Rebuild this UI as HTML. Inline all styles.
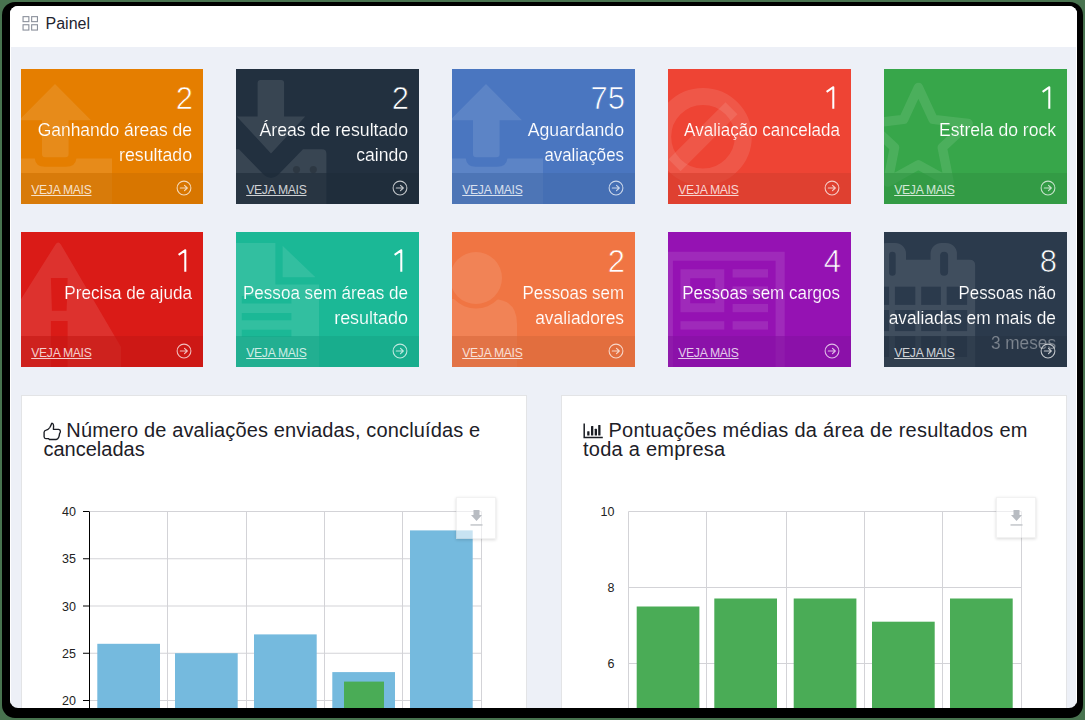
<!DOCTYPE html>
<html><head><meta charset="utf-8">
<style>
*{box-sizing:border-box;margin:0;padding:0}
html,body{width:1085px;height:720px;overflow:hidden;background:#48734f;font-family:"Liberation Sans",sans-serif}
#frame{position:absolute;left:2px;top:2px;width:1081px;height:716px;background:#000;border-radius:13px}
#app{position:absolute;left:10px;top:6px;width:1067px;height:702px;background:#edf0f7;border-radius:8px;overflow:hidden}
#hdr{position:absolute;left:0;top:0;width:1067px;height:41px;background:#fff}
#hdr .t{position:absolute;left:35.5px;top:6px;font-size:16px;line-height:24px;color:#1e2430}
.wl{position:absolute;top:0;width:1px;height:702px;background:#fff}
.tile{position:absolute;width:182px;height:135px;overflow:hidden;color:#fff}
.tile svg.bg{position:absolute;left:0;top:0}
.tile .num{position:absolute;right:10px;top:15px;font-size:31px;line-height:30px;text-align:right;white-space:nowrap}
.tile .lbl{position:absolute;right:11px;top:48.6px;width:200px;font-size:18px;line-height:25.2px;text-align:right;white-space:nowrap}
.tile .ft{position:absolute;left:0;top:104px;width:100%;height:31px}
.tile .vm{position:absolute;left:10.2px;top:8.6px;font-size:12.2px;line-height:16px;letter-spacing:-0.3px;text-decoration:underline;color:rgba(255,255,255,0.78);white-space:nowrap}
.tile .ar{position:absolute;right:10px;top:6px}
.panel{position:absolute;top:389px;width:506px;height:330px;background:#fff;border:1px solid #e3e4e6}
.ttl{position:absolute;font-size:20px;line-height:19px;color:#1d2027;white-space:nowrap}
.lab{position:absolute;font-size:12.5px;line-height:14px;color:#222;text-align:right;width:30px}
.dl{position:absolute;width:40px;height:41.5px;border:1px solid rgba(0,0,0,0.05);background:rgba(255,255,255,0.6);box-shadow:0 1px 3px rgba(0,0,0,0.15)}
</style></head><body>
<div id="frame"></div>
<div id="app">
<div class="wl" style="left:0"></div><div class="wl" style="left:1066px"></div>
<div id="hdr">
<svg style="position:absolute;left:12px;top:10px" width="17" height="16" viewBox="0 0 17 16"><g fill="none" stroke="#8a909b" stroke-width="1.1"><rect x="1.05" y="0.65" width="5.8" height="5.0"/><rect x="9.65" y="0.65" width="5.8" height="5.0"/><rect x="1.05" y="8.75" width="5.8" height="5.3"/><rect x="9.65" y="8.75" width="5.8" height="5.3"/></g></svg>
<div class="t">Painel</div>
</div>
<div class="tile" style="left:11px;top:63px;width:182px;background:#e57e00">
<svg class="bg" width="183" height="135" viewBox="0 0 183 135"><path fill="rgba(255,255,255,0.10)" d="M34 15 L70 51.3 L47.6 51.3 L47.6 85 Q47.6 88.3 44.3 88.3 L24.3 88.3 Q21 88.3 21 85 L21 51.3 L-2 51.3 Z"/>
<path fill="rgba(255,255,255,0.10)" d="M-20 89.5 L13.8 89.5 Q14.5 97.8 24 97.8 L45 97.8 Q54.5 97.8 55.4 89.5 L91 89.5 L91 140 L-20 140 Z"/></svg>
<div class="num" style="-webkit-text-stroke:0.7px #e57e00">2</div>
<div class="lbl" style="-webkit-text-stroke:0.15px #e57e00"><div style="transform:scaleX(0.97);transform-origin:100% 50%">Ganhando áreas de</div><div style="transform:scaleX(0.984);transform-origin:100% 50%">resultado</div></div>
<div class="ft" style="background:rgba(206,113,0,0.6)"><div class="vm">VEJA MAIS</div><svg class="ar" width="18" height="18" viewBox="0 0 18 18"><circle cx="9" cy="9" r="6.9" fill="none" stroke="rgba(255,255,255,0.72)" stroke-width="1.05"/><path d="M5.3 9 L12.3 9 M9.5 6.3 L12.3 9 L9.5 11.7" fill="none" stroke="rgba(255,255,255,0.72)" stroke-width="1.15" stroke-linecap="round" stroke-linejoin="round"/></svg></div>
</div><div class="tile" style="left:226px;top:63px;width:183px;background:#22303f">
<svg class="bg" width="183" height="135" viewBox="0 0 183 135"><path fill="rgba(255,255,255,0.10)" d="M24.6 11 L45.1 11 Q48.1 11 48.1 14 L48.1 47.4 L69.2 47.4 L35 84.5 L0.8 47.4 L21.6 47.4 L21.6 14 Q21.6 11 24.6 11 Z"/>
<path fill="rgba(255,255,255,0.10)" d="M-20 80.2 L3 80.2 L28 106 Q35 112 42 106 L67 80.2 L86 80.2 Q90.4 80.2 90.4 84.6 L90.4 140 L-20 140 Z"/>
<circle cx="60.5" cy="100.6" r="3.6" fill="rgba(0,0,0,0.18)"/><circle cx="77.3" cy="100.6" r="3.6" fill="rgba(0,0,0,0.18)"/></svg>
<div class="num" style="-webkit-text-stroke:0.7px #22303f">2</div>
<div class="lbl" style="-webkit-text-stroke:0.15px #22303f"><div style="transform:scaleX(0.983);transform-origin:100% 50%">Áreas de resultado</div><div style="transform:scaleX(0.977);transform-origin:100% 50%">caindo</div></div>
<div class="ft" style="background:rgba(30,43,56,0.6)"><div class="vm">VEJA MAIS</div><svg class="ar" width="18" height="18" viewBox="0 0 18 18"><circle cx="9" cy="9" r="6.9" fill="none" stroke="rgba(255,255,255,0.72)" stroke-width="1.05"/><path d="M5.3 9 L12.3 9 M9.5 6.3 L12.3 9 L9.5 11.7" fill="none" stroke="rgba(255,255,255,0.72)" stroke-width="1.15" stroke-linecap="round" stroke-linejoin="round"/></svg></div>
</div><div class="tile" style="left:442px;top:63px;width:183px;background:#4a76c0">
<svg class="bg" width="183" height="135" viewBox="0 0 183 135"><path fill="rgba(255,255,255,0.10)" d="M34 15 L70 51.3 L47.6 51.3 L47.6 85 Q47.6 88.3 44.3 88.3 L24.3 88.3 Q21 88.3 21 85 L21 51.3 L-2 51.3 Z"/>
<path fill="rgba(255,255,255,0.10)" d="M-20 89.5 L13.8 89.5 Q14.5 97.8 24 97.8 L45 97.8 Q54.5 97.8 55.4 89.5 L91 89.5 L91 140 L-20 140 Z"/></svg>
<div class="num" style="-webkit-text-stroke:0.7px #4a76c0">75</div>
<div class="lbl" style="-webkit-text-stroke:0.15px #4a76c0"><div style="transform:scaleX(0.981);transform-origin:100% 50%">Aguardando</div><div style="transform:scaleX(0.935);transform-origin:100% 50%">avaliações</div></div>
<div class="ft" style="background:rgba(66,106,172,0.6)"><div class="vm">VEJA MAIS</div><svg class="ar" width="18" height="18" viewBox="0 0 18 18"><circle cx="9" cy="9" r="6.9" fill="none" stroke="rgba(255,255,255,0.72)" stroke-width="1.05"/><path d="M5.3 9 L12.3 9 M9.5 6.3 L12.3 9 L9.5 11.7" fill="none" stroke="rgba(255,255,255,0.72)" stroke-width="1.15" stroke-linecap="round" stroke-linejoin="round"/></svg></div>
</div><div class="tile" style="left:658px;top:63px;width:183px;background:#ee4434">
<svg class="bg" width="183" height="135" viewBox="0 0 183 135"><mask id="m66869"><rect x="-50" y="-50" width="300" height="300" fill="#fff"/></mask><g fill="none" stroke="rgba(255,255,255,0.10)" stroke-width="17"><circle cx="35" cy="67.8" r="40.3"/></g><path fill="rgba(255,255,255,0.10)" d="M6.5 96.3 L63.5 39.3" stroke="rgba(255,255,255,0.10)" stroke-width="17"/></svg>
<svg style="position:absolute;left:0;top:0" width="183" height="50"><path d="M158.6 22.8 L165.0 18.3 L165.3 18.3 L165.3 39.8" fill="none" stroke="#fff" stroke-width="2.05" stroke-linejoin="round"/></svg>
<div class="lbl" style="-webkit-text-stroke:0.15px #ee4434"><div style="transform:scaleX(0.946);transform-origin:100% 50%">Avaliação cancelada</div></div>
<div class="ft" style="background:rgba(214,61,46,0.6)"><div class="vm">VEJA MAIS</div><svg class="ar" width="18" height="18" viewBox="0 0 18 18"><circle cx="9" cy="9" r="6.9" fill="none" stroke="rgba(255,255,255,0.72)" stroke-width="1.05"/><path d="M5.3 9 L12.3 9 M9.5 6.3 L12.3 9 L9.5 11.7" fill="none" stroke="rgba(255,255,255,0.72)" stroke-width="1.15" stroke-linecap="round" stroke-linejoin="round"/></svg></div>
</div><div class="tile" style="left:874px;top:63px;width:183px;background:#37a64a">
<svg class="bg" width="183" height="135" viewBox="0 0 183 135"><polygon points="34.4,18.4 49.2,50.4 84.1,54.5 58.3,78.5 65.1,113.0 34.4,95.8 3.7,113.0 10.5,78.5 -15.3,54.5 19.6,50.4" fill="none" stroke="rgba(255,255,255,0.10)" stroke-width="9.5" stroke-linejoin="round"/></svg>
<svg style="position:absolute;left:0;top:0" width="183" height="50"><path d="M158.6 22.8 L165.0 18.3 L165.3 18.3 L165.3 39.8" fill="none" stroke="#fff" stroke-width="2.05" stroke-linejoin="round"/></svg>
<div class="lbl" style="-webkit-text-stroke:0.15px #37a64a"><div style="transform:scaleX(0.974);transform-origin:100% 50%">Estrela do rock</div></div>
<div class="ft" style="background:rgba(49,149,66,0.6)"><div class="vm">VEJA MAIS</div><svg class="ar" width="18" height="18" viewBox="0 0 18 18"><circle cx="9" cy="9" r="6.9" fill="none" stroke="rgba(255,255,255,0.72)" stroke-width="1.05"/><path d="M5.3 9 L12.3 9 M9.5 6.3 L12.3 9 L9.5 11.7" fill="none" stroke="rgba(255,255,255,0.72)" stroke-width="1.15" stroke-linecap="round" stroke-linejoin="round"/></svg></div>
</div><div class="tile" style="left:11px;top:226px;width:182px;background:#da1b17">
<svg class="bg" width="183" height="135" viewBox="0 0 183 135"><path fill="rgba(255,255,255,0.10)" fill-rule="evenodd" d="M34.5 12.5 Q37.2 8.5 39.9 12.5 L100 115 L100 140 L-30 140 L-30 115 Z M29.9 45.9 L46.6 45.9 L45.6 78.7 L30.9 78.7 Z M29.9 88.9 L46.6 88.9 L46.6 140 L29.9 140 Z"/></svg>
<svg style="position:absolute;left:0;top:0" width="182" height="50"><path d="M157.6 22.8 L164.0 18.3 L164.3 18.3 L164.3 39.8" fill="none" stroke="#fff" stroke-width="2.05" stroke-linejoin="round"/></svg>
<div class="lbl" style="-webkit-text-stroke:0.15px #da1b17"><div style="transform:scaleX(0.952);transform-origin:100% 50%">Precisa de ajuda</div></div>
<div class="ft" style="background:rgba(196,24,20,0.6)"><div class="vm">VEJA MAIS</div><svg class="ar" width="18" height="18" viewBox="0 0 18 18"><circle cx="9" cy="9" r="6.9" fill="none" stroke="rgba(255,255,255,0.72)" stroke-width="1.05"/><path d="M5.3 9 L12.3 9 M9.5 6.3 L12.3 9 L9.5 11.7" fill="none" stroke="rgba(255,255,255,0.72)" stroke-width="1.15" stroke-linecap="round" stroke-linejoin="round"/></svg></div>
</div><div class="tile" style="left:226px;top:226px;width:183px;background:#1bb896">
<svg class="bg" width="183" height="135" viewBox="0 0 183 135"><path fill="rgba(255,255,255,0.10)" fill-rule="evenodd" d="M-20 10.9 L39.4 10.9 L39.4 52.4 L83 52.4 L83 140 L-20 140 Z M5.8 64 L55.4 64 L55.4 71.4 L5.8 71.4 Z M5.8 80.9 L55.4 80.9 L55.4 88.2 L5.8 88.2 Z M5.8 97.7 L55.4 97.7 L55.4 105 L5.8 105 Z"/>
<path fill="rgba(255,255,255,0.10)" d="M46.6 13.8 L46.6 45.2 L79.4 45.2 Z"/></svg>
<svg style="position:absolute;left:0;top:0" width="183" height="50"><path d="M158.6 22.8 L165.0 18.3 L165.3 18.3 L165.3 39.8" fill="none" stroke="#fff" stroke-width="2.05" stroke-linejoin="round"/></svg>
<div class="lbl" style="-webkit-text-stroke:0.15px #1bb896"><div style="transform:scaleX(0.948);transform-origin:100% 50%">Pessoa sem áreas de</div><div style="transform:scaleX(0.997);transform-origin:100% 50%">resultado</div></div>
<div class="ft" style="background:rgba(24,165,135,0.6)"><div class="vm">VEJA MAIS</div><svg class="ar" width="18" height="18" viewBox="0 0 18 18"><circle cx="9" cy="9" r="6.9" fill="none" stroke="rgba(255,255,255,0.72)" stroke-width="1.05"/><path d="M5.3 9 L12.3 9 M9.5 6.3 L12.3 9 L9.5 11.7" fill="none" stroke="rgba(255,255,255,0.72)" stroke-width="1.15" stroke-linecap="round" stroke-linejoin="round"/></svg></div>
</div><div class="tile" style="left:442px;top:226px;width:183px;background:#f07543">
<svg class="bg" width="183" height="135" viewBox="0 0 183 135"><mask id="m452232"><rect x="-50" y="-50" width="300" height="300" fill="#fff"/><circle cx="24" cy="46" r="30.5" fill="#000"/></mask>
<circle cx="24" cy="46" r="26" fill="rgba(255,255,255,0.10)"/><path mask="url(#m452232)" fill="rgba(255,255,255,0.10)" d="M-30 140 L-30 67 L40 67 Q65 67 65 92 L65 140 Z"/></svg>
<div class="num" style="-webkit-text-stroke:0.7px #f07543">2</div>
<div class="lbl" style="-webkit-text-stroke:0.15px #f07543"><div style="transform:scaleX(0.939);transform-origin:100% 50%">Pessoas sem</div><div style="transform:scaleX(0.965);transform-origin:100% 50%">avaliadores</div></div>
<div class="ft" style="background:rgba(216,105,60,0.6)"><div class="vm">VEJA MAIS</div><svg class="ar" width="18" height="18" viewBox="0 0 18 18"><circle cx="9" cy="9" r="6.9" fill="none" stroke="rgba(255,255,255,0.72)" stroke-width="1.05"/><path d="M5.3 9 L12.3 9 M9.5 6.3 L12.3 9 L9.5 11.7" fill="none" stroke="rgba(255,255,255,0.72)" stroke-width="1.15" stroke-linecap="round" stroke-linejoin="round"/></svg></div>
</div><div class="tile" style="left:658px;top:226px;width:183px;background:#9512b3">
<svg class="bg" width="183" height="135" viewBox="0 0 183 135"><path fill="rgba(255,255,255,0.10)" fill-rule="evenodd" d="M-20 19.8 L116.7 19.8 L116.7 140 L-20 140 Z M4.9 28.8 L107.6 28.8 L107.6 140 L4.9 140 Z"/>
<path fill="rgba(255,255,255,0.10)" fill-rule="evenodd" d="M12.5 37.2 L56.3 37.2 L56.3 80.2 L12.5 80.2 Z M22.2 46.2 L47.2 46.2 L47.2 71.2 L22.2 71.2 Z"/>
<rect x="64.6" y="37.2" width="35.4" height="8.3" fill="rgba(255,255,255,0.10)"/><rect x="64.6" y="54.4" width="35.4" height="8.3" fill="rgba(255,255,255,0.10)"/>
<rect x="64.6" y="71.9" width="35.4" height="8.3" fill="rgba(255,255,255,0.10)"/><rect x="12.5" y="89.2" width="43.8" height="8.4" fill="rgba(255,255,255,0.10)"/><rect x="64.6" y="89.2" width="35.4" height="8.4" fill="rgba(255,255,255,0.10)"/></svg>
<div class="num" style="-webkit-text-stroke:0.7px #9512b3">4</div>
<div class="lbl" style="-webkit-text-stroke:0.15px #9512b3"><div style="transform:scaleX(0.944);transform-origin:100% 50%">Pessoas sem cargos</div></div>
<div class="ft" style="background:rgba(134,16,161,0.6)"><div class="vm">VEJA MAIS</div><svg class="ar" width="18" height="18" viewBox="0 0 18 18"><circle cx="9" cy="9" r="6.9" fill="none" stroke="rgba(255,255,255,0.72)" stroke-width="1.05"/><path d="M5.3 9 L12.3 9 M9.5 6.3 L12.3 9 L9.5 11.7" fill="none" stroke="rgba(255,255,255,0.72)" stroke-width="1.15" stroke-linecap="round" stroke-linejoin="round"/></svg></div>
</div><div class="tile" style="left:874px;top:226px;width:183px;background:#2b3a4c">
<svg class="bg" width="183" height="135" viewBox="0 0 183 135"><mask id="m884232"><path fill="#fff" d="M-20 27.7 L85.6 27.7 Q91.1 27.7 91.1 33.2 L91.1 140 L-20 140 Z"/><rect x="-8" y="10.9" width="30" height="40" rx="11" fill="#fff"/><rect x="46.6" y="10.9" width="26.3" height="40" rx="11" fill="#fff"/><rect x="-20" y="54.7" width="25.1" height="18.2" fill="#000"/><rect x="-20" y="78" width="25.1" height="21.1" fill="#000"/><rect x="-20" y="104.2" width="25.1" height="20.8" fill="#000"/><rect x="10.9" y="54.7" width="20.4" height="18.2" fill="#000"/><rect x="10.9" y="78" width="20.4" height="21.1" fill="#000"/><rect x="10.9" y="104.2" width="20.4" height="20.8" fill="#000"/><rect x="37.2" y="54.7" width="19.7" height="18.2" fill="#000"/><rect x="37.2" y="78" width="19.7" height="21.1" fill="#000"/><rect x="37.2" y="104.2" width="19.7" height="20.8" fill="#000"/><rect x="62.7" y="54.7" width="20.4" height="18.2" fill="#000"/><rect x="62.7" y="78" width="20.4" height="21.1" fill="#000"/><rect x="62.7" y="104.2" width="20.4" height="20.8" fill="#000"/><rect x="5.1" y="19.7" width="6.6" height="24" rx="3.3" fill="#000"/><rect x="56.1" y="19.7" width="8" height="24" rx="4" fill="#000"/></mask>
<rect mask="url(#m884232)" x="-20" y="0" width="200" height="140" fill="rgba(255,255,255,0.10)"/></svg>
<div class="num" style="-webkit-text-stroke:0.7px #2b3a4c">8</div>
<div class="lbl" style="-webkit-text-stroke:0.15px #2b3a4c"><div style="transform:scaleX(0.936);transform-origin:100% 50%">Pessoas não</div><div style="transform:scaleX(0.961);transform-origin:100% 50%">avaliadas em mais de</div><div style="transform:scaleX(0.957);transform-origin:100% 50%">3 meses</div></div>
<div class="ft" style="background:rgba(38,52,68,0.6)"><div class="vm">VEJA MAIS</div><svg class="ar" width="18" height="18" viewBox="0 0 18 18"><circle cx="9" cy="9" r="6.9" fill="none" stroke="rgba(255,255,255,0.72)" stroke-width="1.05"/><path d="M5.3 9 L12.3 9 M9.5 6.3 L12.3 9 L9.5 11.7" fill="none" stroke="rgba(255,255,255,0.72)" stroke-width="1.15" stroke-linecap="round" stroke-linejoin="round"/></svg></div>
</div>
<div class="panel" style="left:11px"></div>
<div class="panel" style="left:551px"></div>
<svg style="position:absolute;left:-10px;top:-6px" width="1085" height="760" viewBox="0 0 1085 760"><line x1="89" y1="511.5" x2="481.5" y2="511.5" stroke="#d3d3d7" stroke-width="1"/><line x1="83" y1="511.5" x2="89" y2="511.5" stroke="#000" stroke-width="1"/><line x1="89" y1="558.75" x2="481.5" y2="558.75" stroke="#d3d3d7" stroke-width="1"/><line x1="83" y1="558.75" x2="89" y2="558.75" stroke="#000" stroke-width="1"/><line x1="89" y1="606" x2="481.5" y2="606" stroke="#d3d3d7" stroke-width="1"/><line x1="83" y1="606" x2="89" y2="606" stroke="#000" stroke-width="1"/><line x1="89" y1="653.25" x2="481.5" y2="653.25" stroke="#d3d3d7" stroke-width="1"/><line x1="83" y1="653.25" x2="89" y2="653.25" stroke="#000" stroke-width="1"/><line x1="89" y1="700.5" x2="481.5" y2="700.5" stroke="#d3d3d7" stroke-width="1"/><line x1="83" y1="700.5" x2="89" y2="700.5" stroke="#000" stroke-width="1"/><line x1="167.5" y1="511.5" x2="167.5" y2="760" stroke="#d3d3d7" stroke-width="1"/><line x1="246.5" y1="511.5" x2="246.5" y2="760" stroke="#d3d3d7" stroke-width="1"/><line x1="324.5" y1="511.5" x2="324.5" y2="760" stroke="#d3d3d7" stroke-width="1"/><line x1="402.5" y1="511.5" x2="402.5" y2="760" stroke="#d3d3d7" stroke-width="1"/><line x1="481.5" y1="511.5" x2="481.5" y2="760" stroke="#d3d3d7" stroke-width="1"/><rect x="97.3" y="643.8" width="62.7" height="116.2" fill="#75bade"/><rect x="175" y="653.2" width="62.7" height="106.8" fill="#75bade"/><rect x="254" y="634.4" width="62.7" height="125.6" fill="#75bade"/><rect x="332.3" y="672.1" width="62.7" height="87.9" fill="#75bade"/><rect x="410" y="530.4" width="62.7" height="229.6" fill="#75bade"/><rect x="344" y="681.6" width="40" height="78.4" fill="#4aac56"/><line x1="89.5" y1="511.5" x2="89.5" y2="760" stroke="#000" stroke-width="1"/><line x1="628.5" y1="511.5" x2="1021.5" y2="511.5" stroke="#d3d3d7" stroke-width="1"/><line x1="628.5" y1="587.5" x2="1021.5" y2="587.5" stroke="#d3d3d7" stroke-width="1"/><line x1="628.5" y1="663.5" x2="1021.5" y2="663.5" stroke="#d3d3d7" stroke-width="1"/><line x1="628.5" y1="511.5" x2="628.5" y2="760" stroke="#d3d3d7" stroke-width="1"/><line x1="706.5" y1="511.5" x2="706.5" y2="760" stroke="#d3d3d7" stroke-width="1"/><line x1="786.5" y1="511.5" x2="786.5" y2="760" stroke="#d3d3d7" stroke-width="1"/><line x1="864.5" y1="511.5" x2="864.5" y2="760" stroke="#d3d3d7" stroke-width="1"/><line x1="942.5" y1="511.5" x2="942.5" y2="760" stroke="#d3d3d7" stroke-width="1"/><line x1="1021.5" y1="511.5" x2="1021.5" y2="760" stroke="#d3d3d7" stroke-width="1"/><rect x="636.7" y="606.5" width="62.7" height="153.5" fill="#4aac56"/><rect x="714.3" y="598.5" width="62.7" height="161.5" fill="#4aac56"/><rect x="793.7" y="598.5" width="62.7" height="161.5" fill="#4aac56"/><rect x="872" y="621.7" width="62.7" height="138.3" fill="#4aac56"/><rect x="950" y="598.5" width="62.7" height="161.5" fill="#4aac56"/></svg>
<div class="lab" style="left:36px;top:499.1px">40</div><div class="lab" style="left:36px;top:546.35px">35</div><div class="lab" style="left:36px;top:593.6px">30</div><div class="lab" style="left:36px;top:640.85px">25</div><div class="lab" style="left:36px;top:688.1px">20</div><div class="lab" style="left:574.5px;top:499.1px">10</div><div class="lab" style="left:574.5px;top:575.1px">8</div><div class="lab" style="left:574.5px;top:651.1px">6</div>
<svg style="position:absolute;left:30px;top:412px" width="30" height="24" viewBox="0 0 30 24"><path d="M12.3 5.3 Q13.6 5.6 13.6 8 L13.4 11.3 L18.6 11.3 Q20.4 11.5 20.4 13.3 Q20.4 14.6 19.6 15.4 Q19.3 18 18.6 19.6 Q17.8 21.4 16.2 21.5 L9.4 21.5 L8.4 20.6 L5.8 20.6 Q4.2 20.5 4.1 18.7 L4.1 14.3 Q4.2 12.5 6.2 12.1 Q8.3 11.8 9.8 9.5 Q11 7.5 11.4 6 Q11.7 5.2 12.3 5.3 Z" fill="none" stroke="#1a1d24" stroke-width="1.35" stroke-linejoin="round"/></svg><svg style="position:absolute;left:570px;top:412px" width="30" height="30" viewBox="0 0 30 30"><path d="M4.2 5.5 L4.2 19.6 L22.8 19.6" fill="none" stroke="#1a1d24" stroke-width="1.5"/><rect x="7.2" y="13.2" width="2.3" height="4.4" rx="0.5" fill="#1a1d24"/><rect x="11" y="8" width="2.3" height="9.6" rx="0.5" fill="#1a1d24"/><rect x="14.7" y="10.7" width="2.3" height="6.9" rx="0.5" fill="#1a1d24"/><rect x="18.2" y="7" width="2.3" height="10.6" rx="0.5" fill="#1a1d24"/></svg>
<div class="ttl" style="left:33.5px;top:414.6px"><span style="display:inline-block;width:22.8px"></span><span style="letter-spacing:0.14px">Número de avaliações enviadas, concluídas e</span><br>canceladas</div>
<div class="ttl" style="left:573px;top:414.6px"><span style="display:inline-block;width:25.4px"></span><span style="letter-spacing:0.27px">Pontuações médias da área de resultados em</span><br><span style="letter-spacing:0.25px">toda a empresa</span></div>
<div class="dl" style="left:445.5px;top:491px"><svg width="39" height="40" viewBox="0 0 39 40"><path d="M16.5 12 L22.5 12 L22.5 17 L25 17 L19.5 23 L14 17 L16.5 17 Z" fill="#b8bcc2"/><rect x="13.5" y="26.2" width="12" height="1.5" fill="#c3c6ca"/></svg></div><div class="dl" style="left:985.5px;top:490.5px"><svg width="39" height="40" viewBox="0 0 39 40"><path d="M16.5 12 L22.5 12 L22.5 17 L25 17 L19.5 23 L14 17 L16.5 17 Z" fill="#b8bcc2"/><rect x="13.5" y="26.2" width="12" height="1.5" fill="#c3c6ca"/></svg></div>
</div>
</body></html>
